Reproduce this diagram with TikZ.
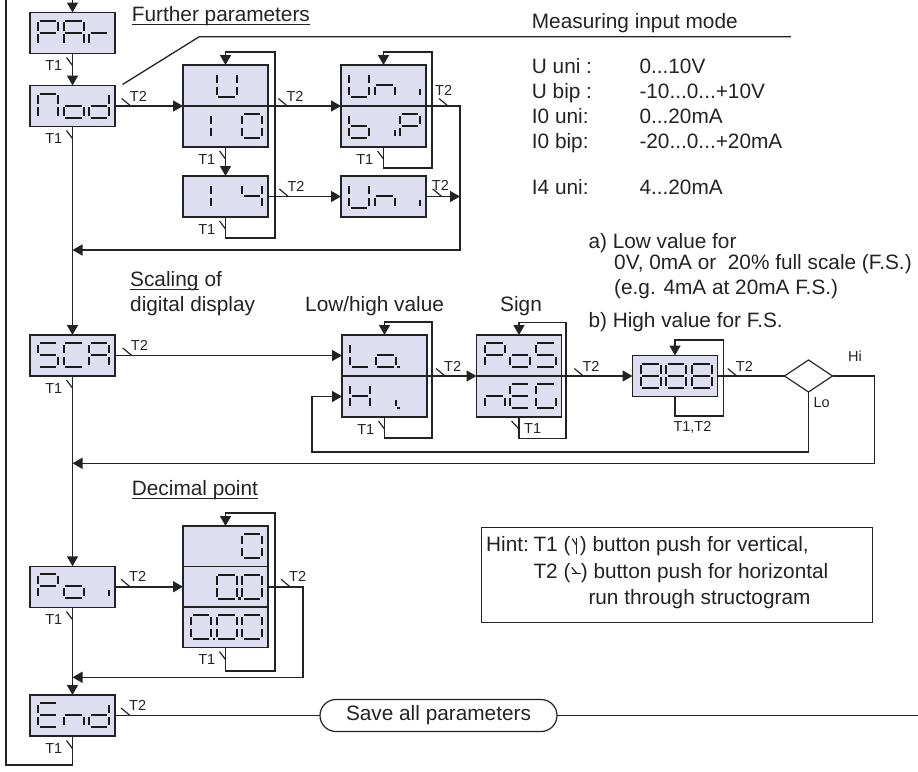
\documentclass[tikz,border=0pt]{standalone}
\usepackage{fontspec}
\setmainfont{Liberation Sans}
\usetikzlibrary{arrows.meta,shapes.geometric,shapes.misc,calc}
\definecolor{boxfill}{RGB}{222,222,240}
\definecolor{ink}{RGB}{35,35,35}
\tikzset{
 ln/.style={line width=1.6pt, draw=ink},
 arr/.style={ln, -{Triangle[length=10pt,width=11pt]}},
 dbox/.style={draw=ink, line width=1.4pt, fill=boxfill, minimum width=85pt, minimum height=41pt, inner sep=0pt, outer sep=0pt},
 sgl/.style={line width=2pt, draw=black!90},
 tk/.style={line width=1.2pt, draw=ink},
 lbl/.style={font=\fontsize{14.5}{16}\selectfont, inner sep=0pt, text=ink},
 txt/.style={font=\fontsize{20.8}{24}\selectfont, inner sep=0pt, anchor=base west, text=ink},
}
\def\sga{\draw[sgl] (1.8,0)--(18.2,0);}
\def\sgb{\draw[sgl] (20,1.8)--(20,10.2);}
\def\sgc{\draw[sgl] (20,13.8)--(20,22.2);}
\def\sgd{\draw[sgl] (1.8,24)--(18.2,24);}
\def\sge{\draw[sgl] (0,13.8)--(0,22.2);}
\def\sgf{\draw[sgl] (0,1.8)--(0,10.2);}
\def\sgg{\draw[sgl] (1.8,12)--(18.2,12);}
\def\sgi{\draw[sgl] (20,16)--(20,22.2);}
\def\sgp{\fill[black!90] (21.6,22.6) rectangle (24.4,25.4);}
\newcommand\cellsg[2]{\begin{scope}[shift={(#1,8)}]\foreach \s in {#2}{\csname sg\s\endcsname}\end{scope}}
\newcommand\dsp[4]{\begin{scope}[shift={(#1.north west)}]\cellsg{8}{#2}\cellsg{33.5}{#3}\cellsg{59}{#4}\end{scope}}
\newcommand\ttwo[2]{\draw[tk] ($(#1,#2)+(-9,-7.5)$) -- (#1,#2); \node[lbl,anchor=base west] at ($(#1,#2)+(-1,-5)$) {T2};}
\newcommand\ttwotick[2]{\draw[tk] ($(#1,#2)+(-9,-7.5)$) -- (#1,#2);}
\newcommand\tone[2]{\draw[tk] ($(#1,#2)+(-6,-8)$) -- (#1,#2); \node[lbl,anchor=base east] at ($(#1,#2)+(-10,5)$) {T1};}
\begin{document}
\begin{tikzpicture}[x=1pt,y=-1pt]
\useasboundingbox (0,0) rectangle (918,771);
% display boxes
\node[dbox] (par) at (72.5,33) {};
\node[dbox] (mod) at (72.5,106) {};
\node[dbox] (dU) at (225.5,85.5) {};
\node[dbox] (dI0) at (225.5,126.5) {};
\node[dbox] (dI4) at (225.5,196.5) {};
\node[dbox] (dUni) at (383.5,85.5) {};
\node[dbox] (dBip) at (383.5,126.5) {};
\node[dbox] (dUn4) at (383.5,196.5) {};
\node[dbox] (sca) at (72.5,355.5) {};
\node[dbox] (dLo) at (384.5,355.5) {};
\node[dbox] (dHi) at (384.5,396.5) {};
\node[dbox] (dPos) at (519,355.5) {};
\node[dbox] (dNeg) at (519,396.5) {};
\node[dbox] (d888) at (675,376) {};
\node[diamond, draw=ink, line width=1.2pt, aspect=1.5, minimum width=48pt, minimum height=32pt, inner sep=0pt, outer sep=0pt] (dia) at (808.5,376) {};
\node[dbox, minimum height=40.5pt] (d0) at (225.5,546.25) {};
\node[dbox, minimum height=40.5pt] (d00) at (225.5,586.75) {};
\node[dbox, minimum height=40.5pt] (d000) at (225.5,627.25) {};
\node[dbox] (poi) at (72.5,586.75) {};
\node[dbox] (endb) at (72.5,715.5) {};
\node[rounded rectangle, draw=ink, line width=1.2pt, minimum width=237pt, minimum height=32pt, inner sep=0pt, outer sep=0pt, font=\fontsize{20.8}{24}\selectfont, text=ink] (save) at (438.5,715.5) {Save all parameters};
\node[draw=ink, line width=1pt, minimum width=391pt, minimum height=95pt, inner sep=0pt] (hint) at (676.5,574.5) {};
% seven segment contents
\dsp{par}{a,b,e,f,g}{a,b,c,e,f,g}{e,g}
\dsp{mod}{a,b,c,e,f}{c,d,e,g}{b,c,d,e,g}
\dsp{dU}{}{b,c,d,e,f}{}
\dsp{dI0}{b,c}{}{a,b,c,d,e,f}
\dsp{dI4}{b,c}{}{b,c,f,g}
\dsp{dUni}{b,c,d,e,f}{c,e,g}{i}
\dsp{dBip}{c,d,e,f,g}{i}{a,b,e,f,g}
\dsp{dUn4}{b,c,d,e,f}{c,e,g}{i}
\dsp{sca}{a,c,d,f,g}{a,d,e,f}{a,b,c,e,f,g}
\dsp{dLo}{d,e,f}{c,d,e,g,p}{}
\dsp{dHi}{b,c,e,f,g}{i,p}{}
\dsp{dPos}{a,b,e,f,g}{c,d,e,g}{a,c,d,f,g}
\dsp{dNeg}{c,e,g}{a,d,e,f,g}{a,c,d,e,f}
\dsp{d888}{a,b,c,d,e,f,g}{a,b,c,d,e,f,g}{a,b,c,d,e,f,g}
\dsp{poi}{a,b,e,f,g}{c,d,e,g}{i}
\dsp{d0}{}{}{a,b,c,d,e,f}
\dsp{d00}{}{a,b,c,d,e,f,p}{a,b,c,d,e,f}
\dsp{d000}{a,b,c,d,e,f,p}{a,b,c,d,e,f}{a,b,c,d,e,f}
\dsp{endb}{a,d,e,f,g}{c,e,g}{b,c,d,e,g}
% coordinates
\coordinate (top) at (72.5,0);
\coordinate (rA) at (460,250);
\coordinate (lpA) at (275,238); \coordinate (lpA2) at (275,52);
\coordinate (lpB) at (431.7,167.7); \coordinate (lpB2) at (431.7,52);
\coordinate (lpC) at (431.7,437.7); \coordinate (lpC2) at (431.7,321.7);
\coordinate (lpD) at (566,438.3); \coordinate (lpD2) at (566,322.3);
\coordinate (lpE) at (723.3,415.7); \coordinate (lpE2) at (723.3,340);
\coordinate (hiA) at (874.3,463.3);
\coordinate (loA) at (311.7,451.7);
\coordinate (lpF) at (275,670.7); \coordinate (lpF2) at (275,512.7);
\coordinate (rB) at (302.7,677.3);
\coordinate (re) at (918,715.5);
\coordinate (lb) at (6,765); \coordinate (lt) at (6,0);
\coordinate (fp0) at (122.5,84.5); \coordinate (fp1) at (199.3,36.7); \coordinate (fp2) at (791,36.7);
% connectors
\draw[arr] (top) -- (par.north);
\draw[arr] (par.south) -- (mod.north);
\draw[arr] (mod.east) -- (dU.south west);
\draw[arr] (dU.south east) -- (dUni.south west);
\draw[arr] (dI0.south) -- (dI4.north);
\draw[arr] (dI4.east) -- (dUn4.west);
\draw[arr] (dUni.south east) -| (rA) -- (rA -| mod.south);
\draw[arr] (dUn4.east) -- (dUn4.east -| rA);
\draw[arr] (dI4.south) |- (lpA) -- (lpA2) -| (dU.north);
\draw[arr] (dBip.south) |- (lpB) -- (lpB2) -| (dUni.north);
\draw[arr] (mod.south) -- (sca.north);
\draw[arr] (sca.east) -- (dLo.west);
\draw[arr] (dHi.south) |- (lpC) -- (lpC2) -| (dLo.north);
\draw[arr] (dLo.south east) -- (dPos.south west);
\draw[arr] (dNeg.south) |- (lpD) -- (lpD2) -| (dPos.north);
\draw[arr] (dPos.south east) -- (d888.west);
\draw[arr] (d888.south) |- (lpE) -- (lpE2) -| (d888.north);
\draw[ln] (d888.east) -- (dia.west);
\draw[arr] (dia.east) -| (hiA) -- (hiA -| mod.south);
\draw[arr] (dia.south) |- (loA) |- (dHi.west);
\draw[arr] (sca.south) -- (poi.north);
\draw[arr] (poi.east) -- (d00.west);
\draw[arr] (d000.south) |- (lpF) -- (lpF2) -| (d0.north);
\draw[arr] (d00.east) -| (rB) -- (rB -| poi.south);
\draw[arr] (poi.south) -- (endb.north);
\draw[ln] (endb.east) -- (save.west);
\draw[ln] (save.east) -- (re);
\draw[ln] (endb.south) |- (lb) -- (lt);
\draw[ln, line width=1.3pt] (fp0) -- (fp1) -- (fp2);
% T2 ticks
\ttwo{130.7}{106}
\ttwo{287.3}{106}
\ttwotick{448}{106} \node[lbl,anchor=base west] at (435,95) {T2};
\ttwo{288.3}{196.5}
\ttwotick{441.7}{196.5} \node[lbl,anchor=base west] at (431.7,190) {T2};
\ttwo{131.7}{355.5}
\ttwo{445}{376}
\ttwo{583.3}{376}
\ttwo{736.7}{376}
\ttwo{130}{586.75}
\ttwo{290}{586.75}
\ttwo{130}{715.5}
% T1 ticks
\tone{72.5}{65.5}
\tone{72.5}{138.5}
\tone{225.5}{159}
\tone{225.5}{229}
\tone{383.5}{159}
\tone{72.5}{388}
\tone{384.5}{429}
\draw[tk] (511.5,421) -- (519,429); \node[lbl,anchor=base west] at (524,433.5) {T1};
\tone{225.5}{659.5}
\tone{72.5}{619.5}
\tone{72.5}{748.5}
\node[lbl,anchor=base west] at (673.3,431) {T1,T2};
\node[lbl] at (855,356.7) {Hi};
\node[lbl] at (821.7,402.7) {Lo};
% texts
\node[txt] (tfp) at (131.7,21.7) {Further parameters};
\draw[tk] ([yshift=-2.5pt]tfp.base west) -- ([yshift=-2.5pt]tfp.base east);
\node[txt] at (531.7,28.3) {Measuring input mode};
\node[txt] at (531.7,73.5) {U uni :};
\node[txt] at (531.7,98.5) {U bip :};
\node[txt] at (531.7,123.5) {I0 uni:};
\node[txt] at (531.7,148.5) {I0 bip:};
\node[txt] at (531.7,194.3) {I4 uni:};
\node[txt] at (639.3,73.5) {0...10V};
\node[txt] at (639.3,98.5) {-10...0...+10V};
\node[txt] at (639.3,123.5) {0...20mA};
\node[txt] at (639.3,148.5) {-20...0...+20mA};
\node[txt] at (639.3,194.3) {4...20mA};
\node[txt] at (588.3,248) {a) Low value for};
\node[txt] at (614,269.3) {0V, 0mA or \ 20\% full scale (F.S.)};
\node[txt] at (614,294) {(e.g. 4mA at 20mA F.S.)};
\node[txt] at (588.3,327.7) {b) High value for F.S.};
\node[txt] (tsc) at (130,286.7) {Scaling};
\node[txt] at (tsc.base east) {\ of};
\draw[tk] ([yshift=-2.5pt]tsc.base west) -- ([yshift=-2.5pt]tsc.base east);
\node[txt] at (130,311.7) {digital display};
\node[txt] at (305,311) {Low/high value};
\node[txt] at (500,311) {Sign};
\node[txt] (tdp) at (131.7,495.7) {Decimal point};
\draw[tk] ([yshift=-2.5pt]tdp.base west) -- ([yshift=-2.5pt]tdp.base east);
% hint
\node[txt] at (486,551.7) {Hint:};
\node[txt] (h1a) at (533.3,551.7) {T1 (};
\node[txt] at ($(h1a.base east)+(9,0)$) {) button push for vertical,};
\draw[tk] ($(h1a.base east)+(5.5,2)$) -- ($(h1a.base east)+(5.5,-14)$);
\draw[tk] ($(h1a.base east)+(1.5,-13)$) -- ($(h1a.base east)+(5.5,-7)$);
\node[txt] (h2a) at (533.3,578.3) {T2 (};
\node[txt] at ($(h2a.base east)+(10,0)$) {) button push for horizontal};
\draw[tk] ($(h2a.base east)+(1,-5)$) -- ($(h2a.base east)+(10,-5)$);
\draw[tk] ($(h2a.base east)+(1,-11)$) -- ($(h2a.base east)+(6,-5)$);
\node[txt] at (588.3,604.5) {run through structogram};
\end{tikzpicture}
\end{document}
